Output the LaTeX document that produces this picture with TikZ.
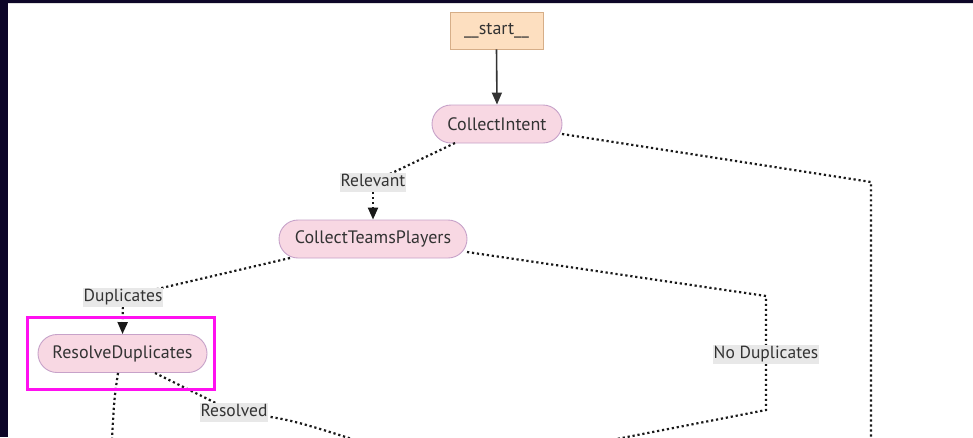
\documentclass[tikz,border=0pt]{standalone}
\usepackage{fontspec}
\setmainfont{PT Sans}
\usetikzlibrary{arrows.meta}
\definecolor{navy}{HTML}{0D0628}
\definecolor{nodefill}{HTML}{F8D8E3}
\definecolor{nodeedge}{HTML}{C7A2C9}
\definecolor{startfill}{HTML}{FDDFC0}
\definecolor{startedge}{HTML}{D6AE88}
\definecolor{labelfill}{HTML}{E8E8E8}
\definecolor{ink}{HTML}{333333}
\definecolor{hilite}{HTML}{FF10F0}
\tikzset{
  statebox/.style={draw=nodeedge, fill=nodefill, line width=0.9pt, rounded corners=19pt,
    minimum height=38pt, inner sep=0pt, text=ink, font=\fontsize{18}{20}\selectfont},
  startbox/.style={draw=startedge, fill=startfill, line width=0.9pt,
    minimum height=37pt, inner sep=0pt, text=ink, font=\fontsize{18}{20}\selectfont},
  edgelabel/.style={fill=labelfill, inner xsep=1pt, inner ysep=1.5pt, text=ink,
    text height=12.5pt, text depth=3.5pt, font=\fontsize{17.5}{19}\selectfont},
  solidedge/.style={draw=ink, line width=1.6pt, -{Triangle[length=12pt,width=10pt]}},
  dotedge/.style={draw=black!90, line width=2.2pt, dash pattern=on 2.2pt off 2.8pt},
  dotarrow/.style={dotedge, -{Triangle[length=12pt,width=10pt,sep=0pt]}},
}
\begin{document}
\begin{tikzpicture}[x=1pt, y=-1pt]
\useasboundingbox (0,0) rectangle (973,437);
\clip (0,0) rectangle (973,437);
% page background with the dark window frame on the left and top
\fill[white] (0,0) rectangle (973,437);
\fill[navy] (0,0) rectangle (8,437);
\fill[navy] (0,0) rectangle (973,3);
\fill[black!12] (8,3) rectangle (973,4.2);

% nodes
\node[startbox, minimum width=93pt] (start) at (496.5,30.5) {\_\_start\_\_};
\node[statebox, minimum width=130pt] (ci) at (497,124) {CollectIntent};
\node[statebox, minimum width=188pt] (ctp) at (373,239) {CollectTeamsPlayers};
\node[statebox, minimum width=169pt] (rd) at (122.5,353.5) {ResolveDuplicates};

% bend points and far ends of the edges
\coordinate (ciout) at (562,134);
\coordinate (cibend) at (871,182);
\coordinate (ciend) at (871,460);
\coordinate (ciexit) at (455,143);
\coordinate (ctpexit) at (290,258);
\coordinate (ctpout) at (467,252);
\coordinate (ndbend1) at (766,296);
\coordinate (ndbend2) at (766,410);
\coordinate (ndend) at (560,450);
\coordinate (rdout) at (118,373);
\coordinate (rdend) at (111,460);
\coordinate (rdres) at (155,373);
\coordinate (resend) at (380,448);

% edges
\draw[solidedge] (start.south) -- (ci.north);
\draw[dotedge] (ciexit) -- (373,182);
\draw[dotarrow] (373,182) -- (ctp.north);
\draw[dotedge] (ctpexit) -- (123,297);
\draw[dotarrow] (123,297) -- (rd.north);
\draw[dotedge] (ciout) -- (cibend) -- (ciend);
\draw[dotedge] (ctpout) -- (ndbend1) -- (ndbend2) -- (ndend);
\draw[dotedge] (rdout) .. controls (114,400) .. (rdend);
\draw[dotedge] (rdres) -- (234,412) .. controls (290,419) .. (resend);

% edge labels
\node[edgelabel] (rel) at (373,182) {Relevant};
\node[edgelabel] (dup) at (123,297) {Duplicates};
\node[edgelabel] (nodup) at (766,354) {No Duplicates};
\node[edgelabel] (res) at (234,412) {Resolved};

% highlight frame
\node[draw=hilite, line width=3pt, minimum width=187pt, minimum height=72pt, inner sep=0pt]
  (frame) at (121,353) {};
\end{tikzpicture}
\end{document}
